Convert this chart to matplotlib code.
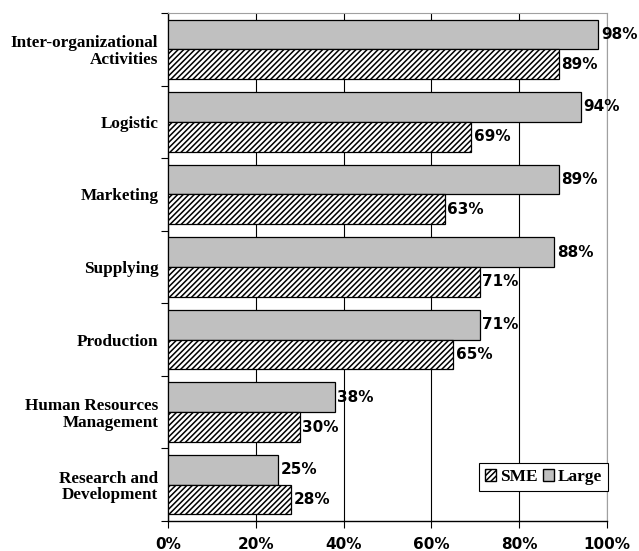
import matplotlib.pyplot as plt
import numpy as np
from matplotlib.patches import Patch

categories = ['Inter-organizational\nActivities', 'Logistic', 'Marketing', 'Supplying',
              'Production', 'Human Resources\nManagement', 'Research and\nDevelopment']
large = [98, 94, 89, 88, 71, 38, 25]
sme = [89, 69, 63, 71, 65, 30, 28]
x_ticks = [0, 20, 40, 60, 80, 100]

plt.rcParams['hatch.linewidth'] = 1.1

fig = plt.figure(figsize=(6.39, 5.51), dpi=100)
ax = fig.add_axes([168 / 639, 1 - 521 / 551, (607 - 168) / 639, (521 - 13) / 551])

n = len(categories)
pos = np.arange(n)[::-1]  # top category at top
h = 0.41

ax.barh(pos + h / 2, large, height=h, color='#c0c0c0', edgecolor='black', linewidth=0.9, zorder=3)
ax.barh(pos - h / 2, sme, height=h, color='white', edgecolor='black', linewidth=0.9,
        hatch='//////', zorder=3)

for p, v in zip(pos, large):
    ax.text(v + 0.6, p + h / 2, f'{v}%', va='center', ha='left', fontsize=11,
            fontweight='bold', family='DejaVu Sans', zorder=4)
for p, v in zip(pos, sme):
    ax.text(v + 0.6, p - h / 2, f'{v}%', va='center', ha='left', fontsize=11,
            fontweight='bold', family='DejaVu Sans', zorder=4)

ax.set_xlim(0, 100)
ax.set_ylim(-0.5, n - 0.5)
ax.set_xticks(x_ticks)
ax.set_xticklabels([f'{t}%' for t in x_ticks], fontsize=11, fontweight='bold', family='DejaVu Sans')
ax.xaxis.grid(True, color='black', linewidth=0.8, zorder=0)

ax.set_yticks(pos)
ax.set_yticklabels(categories, fontsize=12.3, fontweight='bold', family='Liberation Serif',
                   linespacing=1.05)
ax.tick_params(axis='y', length=0, pad=7)
ax.set_yticks(np.arange(n + 1) - 0.5, minor=True)
ax.tick_params(axis='y', which='minor', length=5, width=0.8)
ax.tick_params(axis='x', length=5, width=0.8, pad=6.5)

ax.spines['top'].set_color('#a0a0a0')
ax.spines['right'].set_color('#a0a0a0')
for s in ['left', 'bottom']:
    ax.spines[s].set_linewidth(1.0)

handles = [Patch(facecolor='white', edgecolor='black', hatch='//////'),
           Patch(facecolor='#c0c0c0', edgecolor='black')]
leg = ax.legend(handles, ['SME', 'Large'], ncol=2, loc='lower right', bbox_to_anchor=(1.002, 0.059),
                prop={'family': 'Liberation Serif', 'weight': 'bold', 'size': 12.5},
                handlelength=0.65, handleheight=0.65, handletextpad=0.2, columnspacing=0.3,
                fancybox=False, edgecolor='black', framealpha=1, borderpad=0.35,
                borderaxespad=0)
leg.get_frame().set_linewidth(0.8)

fig.savefig('out.png', dpi=100)
